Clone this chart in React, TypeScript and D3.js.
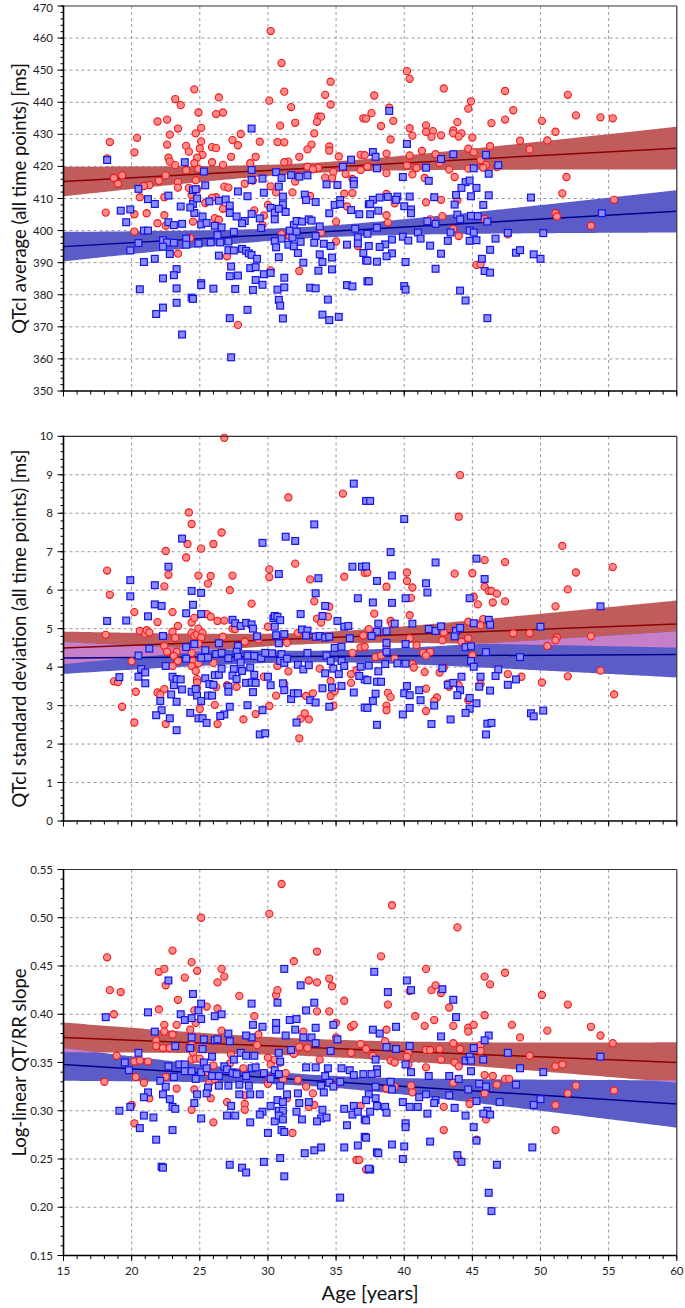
import React from "react";
import * as d3 from "d3";

// ---------- DATA ----------
const ageDomain: [number, number] = [15, 60];
const ageTicks = [15, 20, 25, 30, 35, 40, 45, 50, 55, 60];

const avgTicks = [350, 360, 370, 380, 390, 400, 410, 420, 430, 440, 450, 460, 470];
const sdTicks = [0, 1, 2, 3, 4, 5, 6, 7, 8, 9, 10];
const slopeTicks = [0.15, 0.2, 0.25, 0.3, 0.35, 0.4, 0.45, 0.5, 0.55];

// Panel 1: QTcI average [ms]  (female = red circles, male = blue squares)
const avgFemale: [number, number][] = [
  [30.2,462.2],[31.0,452.2],[40.2,449.7],[40.4,447.3],[34.6,446.4],[42.9,444.3],[24.6,444.0],[31.2,443.3],[47.4,443.5],[34.2,442.3],
  [52.0,442.3],[37.8,442.1],[26.4,441.5],[23.2,441.0],[30.1,440.5],[44.9,440.3],[34.6,439.3],[23.6,439.1],[31.7,438.5],[38.9,438.3],
  [44.7,438.0],[48.0,437.5],[24.9,436.8],[26.7,436.8],[37.6,436.6],[26.2,436.3],[52.6,435.9],[33.7,435.5],[33.9,435.5],[54.4,435.3],
  [55.3,435.0],[37.0,435.0],[37.2,434.9],[21.9,434.0],[22.6,434.6],[46.4,433.5],[47.4,434.6],[50.1,434.2],[39.2,434.2],[43.9,433.8],
  [33.6,433.9],[32.0,433.6],[30.9,432.7],[41.6,432.8],[38.3,432.6],[25.1,432.0],[23.4,431.8],[40.4,431.9],[42.1,431.0],[43.6,431.2],
  [51.1,430.8],[41.6,430.8],[24.7,430.3],[33.4,430.3],[44.2,430.3],[43.6,430.3],[28.0,430.1],[42.7,429.7],[40.6,429.6],[22.8,429.9],
  [20.4,428.9],[44.0,429.3],[42.0,429.2],[45.0,429.0],[39.0,428.4],[27.4,428.2],[50.5,428.1],[48.5,428.0],[25.1,427.8],[18.4,427.6],
  [29.4,427.7],[30.7,427.6],[31.2,427.5],[22.6,426.8],[33.2,426.8],[27.8,426.6],[24.0,426.4],[46.3,426.3],[34.5,426.2],[25.9,426.0],
  [26.2,425.7],[25.0,425.6],[44.7,425.5],[32.9,425.3],[49.2,425.3],[34.5,424.9],[41.3,424.8],[24.2,424.6],[20.2,424.4],[45.1,424.4],
  [38.7,424.0],[42.3,423.8],[35.2,423.1],[36.8,423.6],[37.1,423.5],[25.2,423.6],[40.4,423.4],[27.3,423.0],[29.1,423.0],[32.3,423.0],
  [22.7,422.7],[24.8,422.7],[18.2,422.5],[45.6,421.9],[28.7,421.0],[22.8,421.5],[31.5,421.5],[25.9,421.3],[31.2,421.3],[42.6,421.1],
  [24.6,421.0],[26.7,420.5],[23.2,420.4],[46.0,420.4],[40.2,420.3],[37.3,419.9],[32.9,419.9],[46.8,419.8],[33.7,419.6],[45.8,419.6],
  [40.9,419.5],[44.7,419.3],[24.9,419.2],[33.3,419.1],[43.3,419.0],[36.8,418.9],[24.0,418.8],[34.8,418.3],[38.7,417.9],[35.7,417.6],
  [40.6,417.5],[19.3,417.2],[22.5,417.2],[32.2,417.1],[43.7,416.7],[51.9,416.7],[34.2,416.5],[18.7,416.4],[41.5,416.4],[34.7,416.3],
  [36.2,416.1],[24.7,415.7],[28.9,415.6],[22.0,415.5],[32.0,415.3],[23.4,415.1],[19.0,414.6],[28.3,414.6],[21.3,414.2],[20.9,413.9],
  [30.2,413.8],[26.8,413.7],[23.4,413.4],[27.1,413.4],[24.2,413.3],[24.8,412.9],[31.8,411.9],[30.6,411.9],[36.2,411.7],[51.6,411.6],
  [35.6,411.5],[38.7,411.4],[24.4,411.1],[33.1,410.8],[20.6,410.4],[22.4,410.4],[26.2,410.4],[25.9,410.3],[32.8,409.7],[55.4,409.6],
  [42.7,409.6],[43.9,409.4],[24.5,409.1],[41.6,408.8],[25.4,408.6],[39.3,408.5],[30.0,408.0],[35.8,407.5],[26.7,406.8],[29.0,406.3],
  [18.1,405.6],[21.1,405.4],[51.1,405.4],[20.2,405.1],[38.7,404.8],[22.4,404.8],[29.7,404.7],[42.8,404.5],[51.2,404.4],[26.1,403.9],
  [45.9,403.6],[41.9,403.5],[26.4,403.4],[24.5,402.8],[35.0,402.8],[38.8,402.5],[21.9,402.3],[29.6,401.7],[22.5,401.5],[53.7,401.5],
  [43.6,400.5],[20.2,399.7],[33.9,399.4],[31.0,398.9],[47.6,398.8],[31.6,398.3],[44.0,398.3],[24.3,397.7],[35.0,396.6],[36.6,395.2],
  [23.4,392.8],[27.0,392.0],[45.3,389.3],[45.6,389.5],[30.2,387.6],[32.3,387.4],[27.8,370.6]
];
const avgMale: [number, number][] = [
  [18.2,422.0],[20.5,413.0],[19.2,406.2],[19.9,406.6],[19.6,402.6],[20.9,400.0],[21.2,400.0],[20.5,396.1],[19.9,393.8],[20.9,390.2],
  [20.6,381.7],[21.2,409.8],[21.7,408.3],[21.7,391.2],[22.3,385.1],[21.8,374.0],[22.3,376.0],[22.7,410.9],[22.7,402.6],[23.1,401.7],
  [23.7,402.1],[23.6,407.5],[23.9,421.3],[22.3,397.0],[22.6,396.3],[23.1,396.2],[22.3,395.0],[22.8,392.7],[23.3,388.0],[23.1,386.1],
  [23.3,382.0],[23.3,377.5],[23.7,367.6],[24.0,397.5],[24.0,395.6],[24.5,412.6],[24.7,412.9],[24.5,408.3],[24.6,405.5],[24.8,410.0],
  [24.3,407.2],[25.2,404.4],[25.4,414.1],[25.3,418.4],[25.1,401.9],[25.5,402.4],[25.7,409.1],[24.9,396.0],[25.1,383.6],[25.1,383.0],
  [24.4,379.1],[24.5,378.7],[26.0,381.9],[25.8,396.3],[26.1,401.5],[26.3,398.6],[26.6,401.0],[26.5,396.3],[26.4,409.3],[26.9,409.7],
  [27.2,407.8],[27.2,405.5],[27.5,399.6],[27.1,396.6],[26.4,392.2],[27.1,393.9],[27.5,393.8],[28.1,394.3],[28.4,393.7],[28.6,392.9],
  [28.8,392.4],[29.2,391.2],[28.7,388.3],[29.1,388.6],[27.3,388.8],[27.2,385.8],[27.8,386.0],[27.6,381.8],[27.2,372.7],[28.5,375.3],
  [28.9,381.5],[29.1,384.6],[29.6,383.1],[29.7,386.4],[30.2,386.8],[30.7,381.6],[31.2,382.3],[31.2,385.3],[30.8,378.4],[30.9,376.6],
  [31.1,372.6],[28.8,431.8],[27.8,412.2],[28.5,410.7],[28.8,405.2],[28.3,403.0],[28.1,402.3],[27.7,404.4],[28.8,418.9],[28.8,415.8],
  [29.6,416.2],[29.7,411.8],[29.4,403.8],[29.5,400.8],[30.2,407.1],[30.5,405.6],[30.5,403.5],[30.8,413.7],[30.6,418.2],[31.0,416.4],
  [31.1,410.6],[31.1,408.1],[30.8,406.8],[31.3,405.8],[31.0,397.5],[30.5,396.7],[30.6,394.8],[30.8,391.7],[31.5,395.6],[31.8,397.8],
  [31.9,395.1],[32.2,393.0],[32.4,396.5],[32.6,390.0],[31.7,417.3],[32.3,416.8],[32.9,417.2],[32.7,411.2],[32.8,409.5],[33.5,408.9],
  [31.9,401.7],[32.1,403.0],[31.6,400.0],[32.1,399.7],[32.5,402.8],[33.0,403.5],[33.2,403.1],[33.8,401.3],[33.5,398.3],[33.4,396.2],
  [33.8,392.6],[34.1,395.9],[34.0,390.2],[34.6,395.2],[34.7,391.6],[33.7,387.5],[34.7,387.9],[33.1,382.2],[33.5,382.0],[34.4,378.5],
  [34.0,373.8],[34.5,372.1],[35.2,373.1],[34.3,414.4],[34.5,405.4],[34.9,408.0],[35.3,409.5],[35.3,408.3],[35.1,414.2],[35.5,419.9],
  [36.1,422.1],[36.3,415.5],[36.3,414.4],[36.1,406.4],[36.7,405.1],[36.4,400.6],[36.6,397.9],[36.6,396.0],[35.8,395.6],[37.0,393.0],
  [37.2,390.7],[35.8,383.0],[36.2,382.6],[37.3,384.2],[37.4,408.2],[27.3,360.5],
  [38.9,437.3],[40.2,427.0],[37.7,424.5],[37.9,423.0],[38.0,419.4],[42.7,422.3],[43.6,423.8],[46.0,423.6],[46.9,420.4],[45.1,419.4],
  [41.6,419.6],[46.2,417.7],[39.9,416.7],[41.8,415.5],[44.5,415.1],[44.8,415.6],[44.2,413.3],[45.3,413.3],[44.9,410.7],[46.2,411.0],
  [43.8,411.1],[42.2,410.4],[40.4,410.6],[49.3,410.3],[39.5,410.6],[38.8,410.5],[38.2,410.3],[37.7,409.6],[37.5,408.3],[39.4,409.6],
  [40.0,407.6],[40.5,406.6],[40.5,405.4],[38.1,406.2],[37.5,405.1],[43.7,408.1],[45.8,408.0],[43.9,405.0],[44.9,404.6],[45.4,404.5],
  [44.1,403.5],[41.7,402.9],[42.3,402.1],[46.1,402.8],[54.5,405.4],[38.0,400.9],[37.3,399.0],[39.9,398.1],[40.3,396.9],[41.0,399.4],
  [41.2,397.5],[43.4,399.4],[43.2,396.8],[44.8,400.0],[45.1,399.4],[44.8,396.8],[45.3,397.0],[46.7,397.5],[47.6,399.3],[50.2,399.2],
  [39.1,397.2],[38.6,395.7],[38.2,394.9],[37.4,395.2],[41.9,395.3],[39.1,392.9],[38.7,392.0],[42.7,392.8],[46.3,394.0],[48.2,393.1],
  [48.5,393.9],[49.5,392.6],[50.0,391.2],[37.3,390.6],[38.0,390.3],[40.1,390.2],[42.3,388.1],[45.7,391.2],[45.9,387.4],[46.3,386.9],
  [37.4,384.2],[40.0,382.7],[40.1,381.6],[44.1,381.3],[44.5,378.2],[46.1,372.7]
];

// Panel 2: QTcI standard deviation [ms]
const sdFemale: [number, number][] = [
  [26.8,9.96],[18.2,6.51],[18.4,5.88],[18.1,4.84],[18.7,3.63],[19.0,3.61],[19.3,2.97],[20.2,2.56],[20.2,5.43],[20.0,4.15],
  [20.3,3.36],[20.6,4.94],[21.0,4.87],[21.1,4.96],[21.3,4.90],[21.9,5.17],[21.9,3.34],[22.5,7.02],[22.4,6.10],[22.7,6.40],
  [22.4,4.55],[22.6,4.40],[22.4,3.43],[22.5,2.52],[22.1,3.29],[23.0,5.43],[23.0,4.92],[23.4,5.07],[23.2,4.76],[23.3,4.40],
  [23.1,4.29],[23.4,4.16],[23.0,4.03],[24.2,8.02],[24.4,7.72],[24.1,7.20],[24.0,6.85],[24.4,5.16],[24.6,5.28],[24.4,4.89],
  [24.6,4.81],[24.8,4.85],[24.9,5.00],[25.2,4.89],[25.1,4.77],[24.9,4.61],[24.4,4.37],[24.5,4.16],[24.4,4.03],[24.7,3.90],
  [24.8,3.69],[24.8,3.60],[24.8,3.45],[24.9,6.38],[25.1,7.08],[25.6,6.17],[25.8,6.37],[25.5,5.38],[25.8,5.31],[26.3,5.20],
  [26.6,7.50],[26.0,7.20],[24.9,4.10],[25.0,2.91],[26.0,4.11],[26.2,3.48],[26.1,3.02],[26.3,2.52],[26.8,5.21],[26.7,4.79],
  [27.2,6.00],[27.4,6.38],[27.4,5.00],[27.6,4.99],[27.7,3.49],[27.0,3.53],[28.2,2.64],[28.8,5.65],[28.3,4.66],[29.3,4.72],
  [29.1,2.78],[30.1,6.54],[30.1,6.34],[30.0,5.05],[29.7,3.75],[30.1,2.99],[31.4,4.63],[31.5,8.41],[32.0,6.69],[31.2,3.56],
  [30.6,3.26],[30.7,4.03],[31.5,3.89],[32.3,2.15],[32.4,2.66],[33.0,2.64],[32.2,4.89],[33.1,6.28],[33.4,5.71],[33.6,5.26],
  [33.9,5.16],[34.5,5.57],[34.4,5.31],[32.8,3.25],[33.3,3.32],[33.8,3.96],[34.6,3.64],[34.6,3.25],[34.9,3.37],[34.8,3.00],
  [35.5,8.51],[35.6,6.35],[36.2,4.37],[36.1,3.82],[36.1,3.59],[36.8,4.51],[36.5,3.92],[37.1,6.45],[37.0,4.82],[32.7,2.80],
  [44.1,8.99],[44.0,7.91],[51.6,7.15],[45.9,6.78],[47.4,6.73],[55.3,6.60],[52.6,6.46],[43.7,6.43],[45.0,6.44],[40.2,6.46],
  [40.2,6.24],[40.6,6.07],[38.7,6.09],[45.9,6.09],[46.2,5.98],[46.4,5.98],[46.8,5.91],[52.0,6.02],[40.5,5.80],[45.1,5.83],
  [45.4,5.63],[46.5,5.68],[47.4,5.71],[51.1,5.58],[37.8,5.39],[40.4,5.35],[37.3,6.46],[39.0,5.20],[39.1,5.12],[44.7,5.18],
  [45.8,5.25],[45.6,5.09],[37.4,4.99],[42.9,4.90],[42.8,4.70],[43.7,4.94],[44.7,4.75],[44.2,4.66],[48.0,4.88],[49.2,4.88],
  [53.7,4.80],[50.5,4.55],[51.2,4.77],[51.1,4.70],[40.4,4.75],[40.9,4.57],[38.7,4.55],[37.1,4.53],[41.4,4.37],[41.9,4.39],
  [41.6,4.30],[45.0,4.31],[37.9,4.26],[38.3,4.30],[39.3,4.22],[40.6,4.08],[40.7,3.99],[42.9,3.99],[41.5,3.87],[42.6,3.86],
  [47.6,3.82],[48.6,3.75],[52.0,3.76],[54.4,3.91],[50.1,3.60],[43.3,3.49],[44.0,3.53],[45.6,3.56],[41.6,3.44],[38.8,3.33],
  [39.0,3.22],[42.4,3.21],[42.2,3.12],[44.7,3.14],[55.4,3.29],[38.7,3.00],[38.7,2.88],[41.6,2.86],[43.2,3.57]
];
const sdMale: [number, number][] = [
  [18.2,5.20],[19.6,5.21],[19.9,5.84],[19.9,6.26],[20.5,4.30],[20.7,3.95],[20.5,3.75],[21.0,3.86],[21.0,3.58],[19.1,3.74],
  [21.2,5.32],[21.3,4.48],[21.7,6.13],[21.7,5.63],[22.2,5.59],[22.3,4.81],[22.5,4.03],[22.7,6.61],[22.9,3.29],[23.0,3.75],
  [23.1,3.53],[23.3,3.69],[23.6,3.68],[23.7,3.42],[23.3,3.10],[22.1,3.12],[22.2,2.88],[21.8,2.75],[22.8,2.67],[23.3,2.36],
  [23.7,7.34],[24.0,5.40],[24.0,4.52],[24.0,4.22],[24.4,5.98],[24.5,5.62],[24.6,4.60],[25.1,5.93],[25.1,5.38],[25.4,4.44],
  [25.1,4.24],[25.6,4.25],[25.4,3.71],[25.7,3.56],[26.0,3.54],[24.4,3.36],[24.8,3.26],[25.1,3.12],[24.7,3.43],[24.3,2.81],
  [24.9,2.67],[25.2,2.67],[25.5,2.55],[25.6,3.26],[25.9,3.26],[26.1,3.79],[26.2,4.34],[26.6,4.37],[26.4,4.62],[26.4,3.80],
  [26.6,3.96],[27.1,4.23],[27.1,3.49],[27.1,3.36],[27.2,2.97],[26.8,2.77],[26.5,2.73],[27.4,5.23],[27.6,5.14],[28.0,5.07],
  [27.8,4.55],[27.7,4.40],[27.8,4.27],[28.0,4.12],[27.5,3.95],[27.4,3.78],[27.7,3.69],[28.1,3.90],[28.4,5.15],[28.8,5.11],
  [28.9,5.00],[29.2,4.80],[28.5,4.30],[29.0,4.29],[28.7,3.99],[29.0,3.80],[28.4,3.59],[28.8,3.60],[29.1,3.59],[28.9,3.35],
  [28.5,3.01],[29.5,4.23],[29.8,4.37],[29.6,7.23],[29.6,2.88],[29.4,2.25],[29.8,2.28],[30.0,3.75],[30.2,3.53],[30.3,4.36],
  [30.4,5.27],[30.5,5.33],[30.7,5.31],[30.9,5.22],[30.5,5.05],[30.6,4.83],[30.8,4.62],[31.2,4.86],[31.0,4.34],[30.9,4.16],
  [31.2,4.11],[31.4,4.22],[31.1,3.58],[31.2,3.40],[31.7,3.17],[31.9,3.32],[32.2,3.32],[32.1,2.56],[30.8,6.42],[31.3,7.39],
  [32.0,7.28],[32.4,5.38],[32.5,4.98],[32.9,4.95],[32.8,4.82],[32.9,4.37],[32.2,4.06],[32.6,3.94],[33.0,4.05],[33.1,3.14],
  [33.5,3.08],[33.5,4.79],[33.7,6.31],[33.5,5.92],[33.4,7.71],[34.2,5.59],[34.0,5.33],[33.8,4.81],[34.2,4.77],[34.5,4.79],
  [34.3,4.30],[34.6,4.16],[34.8,3.96],[34.2,3.84],[34.7,3.47],[35.4,3.51],[34.0,3.45],[34.5,2.97],[35.1,5.20],[35.6,5.05],
  [35.9,5.07],[36.0,4.75],[34.9,4.50],[35.4,4.53],[35.4,4.16],[35.6,4.03],[35.2,3.82],[36.3,8.77],[36.2,6.61],[36.9,6.61],
  [36.6,5.79],[37.2,8.32],[36.3,3.34],[37.1,2.95],[36.8,4.01],[37.1,3.68],[36.7,3.77],
  [37.5,8.32],[40.0,7.85],[39.0,6.99],[42.3,6.72],[45.3,6.82],[37.2,6.62],[38.0,6.24],[39.1,6.38],[41.6,6.18],[41.7,5.94],
  [45.9,6.29],[40.1,5.79],[44.8,5.79],[37.7,5.68],[39.1,5.67],[54.4,5.58],[38.1,5.13],[38.0,4.92],[37.6,4.81],[38.7,4.93],
  [39.3,5.13],[40.6,5.13],[41.8,4.99],[42.3,4.94],[42.7,5.06],[43.8,4.94],[44.1,5.02],[43.7,4.80],[45.1,5.14],[46.2,5.23],
  [46.3,5.10],[50.0,5.05],[38.7,4.63],[40.1,4.60],[38.7,4.40],[44.5,4.52],[44.9,4.54],[46.0,4.39],[48.5,4.26],[37.4,4.04],
  [38.6,4.08],[38.1,3.89],[39.5,4.10],[40.1,4.09],[42.8,3.97],[44.9,4.16],[45.1,4.01],[46.9,3.94],[44.2,3.75],[45.6,3.75],
  [46.7,3.77],[48.2,3.68],[37.3,3.66],[38.0,3.62],[38.3,3.62],[40.2,3.51],[43.2,3.54],[43.6,3.59],[45.5,3.49],[46.3,3.39],
  [47.6,3.54],[40.0,3.32],[40.4,3.27],[41.1,3.40],[37.9,3.31],[44.1,3.40],[43.9,3.27],[41.2,3.14],[44.8,3.20],[45.3,3.06],
  [37.7,3.12],[37.3,2.94],[40.4,2.94],[42.2,3.00],[44.8,2.92],[44.5,2.81],[39.9,2.77],[50.2,2.87],[49.3,2.80],[49.5,2.72],
  [38.0,2.50],[42.0,2.52],[43.4,2.64],[46.1,2.53],[46.4,2.55],[46.0,2.25]
];

// Panel 3: log-linear QT/RR slope
const slopeFemale: [number, number][] = [
  [31.0,0.535],[30.1,0.504],[25.1,0.500],[39.1,0.513],[43.9,0.490],
  [18.2,0.459],[18.4,0.425],[19.2,0.423],[18.7,0.400],[18.0,0.330],[18.9,0.357],[20.2,0.351],[20.6,0.352],[20.3,0.335],[20.9,0.329],
  [21.2,0.351],[21.3,0.313],[20.0,0.306],[20.2,0.287],[22.0,0.444],[22.4,0.447],[22.5,0.430],[23.0,0.466],[22.0,0.405],[22.4,0.389],
  [22.4,0.382],[21.8,0.373],[21.8,0.367],[22.3,0.365],[22.8,0.365],[23.0,0.379],[23.3,0.389],[23.4,0.415],[22.5,0.335],[23.3,0.323],
  [23.9,0.438],[24.4,0.454],[24.8,0.445],[24.6,0.404],[24.3,0.384],[24.7,0.391],[24.4,0.368],[24.2,0.365],[24.5,0.360],[24.4,0.353],
  [24.7,0.354],[25.0,0.354],[24.6,0.322],[24.4,0.301],[25.5,0.408],[26.3,0.406],[26.6,0.447],[26.8,0.439],[26.3,0.433],[26.6,0.383],
  [26.3,0.373],[25.6,0.340],[26.0,0.347],[25.7,0.329],[26.1,0.332],[25.8,0.313],[26.0,0.288],[27.0,0.309],[27.9,0.419],[27.3,0.358],
  [27.2,0.349],[28.2,0.344],[28.3,0.307],[28.3,0.316],[28.3,0.301],[29.0,0.398],[29.2,0.368],[29.3,0.379],[30.0,0.355],[30.0,0.328],
  [30.1,0.334],[30.6,0.420],[30.7,0.425],[30.2,0.348],[30.5,0.353],[30.9,0.350],[31.1,0.332],[31.3,0.339],[31.4,0.313],[31.8,0.277],
  [31.9,0.455],[33.6,0.465],[33.0,0.435],[33.6,0.433],[34.5,0.437],[34.7,0.429],[33.6,0.403],[34.5,0.403],[32.6,0.382],[32.3,0.366],
  [32.9,0.365],[31.9,0.359],[33.8,0.353],[32.2,0.332],[32.8,0.325],[33.3,0.318],[33.0,0.304],[33.4,0.306],[35.6,0.414],[36.1,0.387],
  [36.3,0.389],[35.0,0.391],[35.0,0.376],[36.1,0.360],[36.8,0.369],[34.9,0.326],[36.8,0.305],[36.5,0.249],[37.2,0.239],
  [38.3,0.460],[41.6,0.447],[45.9,0.439],[47.4,0.443],[46.3,0.431],[42.0,0.425],[42.3,0.430],[42.7,0.422],[50.1,0.420],[52.0,0.410],
  [38.8,0.410],[40.4,0.424],[43.3,0.407],[40.8,0.398],[42.2,0.394],[41.5,0.388],[43.6,0.388],[44.7,0.386],[44.7,0.382],[45.1,0.389],
  [45.9,0.399],[47.9,0.389],[48.5,0.376],[50.5,0.383],[53.7,0.387],[54.4,0.378],[55.3,0.370],[38.7,0.384],[38.6,0.372],[37.2,0.364],
  [43.6,0.370],[44.1,0.364],[42.6,0.364],[41.6,0.363],[41.9,0.363],[45.6,0.368],[45.6,0.362],[40.3,0.360],[40.2,0.356],[37.7,0.357],
  [39.0,0.352],[39.3,0.350],[42.7,0.353],[49.2,0.357],[51.1,0.346],[51.6,0.348],[40.3,0.348],[41.6,0.345],[43.7,0.350],[44.0,0.346],
  [45.9,0.337],[46.5,0.336],[47.4,0.333],[47.7,0.333],[40.5,0.326],[40.6,0.319],[39.3,0.325],[38.7,0.323],[43.6,0.329],[46.8,0.327],
  [52.6,0.326],[55.4,0.321],[45.9,0.318],[52.0,0.318],[51.1,0.306],[44.9,0.309],[44.8,0.307],[42.9,0.304],[46.0,0.291],[42.9,0.280],
  [51.1,0.280],[44.0,0.250],[45.3,0.270],[36.7,0.249]
];
const slopeMale: [number, number][] = [
  [18.1,0.397],[19.5,0.350],[19.8,0.342],[20.5,0.360],[19.1,0.300],[19.9,0.304],[20.6,0.282],[20.9,0.295],[21.2,0.319],[20.9,0.314],
  [21.6,0.293],[21.8,0.270],[22.2,0.242],[21.2,0.402],[21.7,0.382],[22.1,0.331],[22.5,0.325],[22.3,0.317],[22.8,0.312],[23.0,0.304],
  [23.2,0.302],[23.0,0.280],[22.7,0.435],[23.2,0.367],[22.7,0.346],[23.1,0.335],[23.5,0.348],[23.6,0.400],[23.9,0.394],[24.4,0.396],
  [24.9,0.404],[25.1,0.395],[25.1,0.411],[24.5,0.421],[24.4,0.376],[24.3,0.365],[25.3,0.374],[25.2,0.364],[23.9,0.348],[23.9,0.341],
  [24.4,0.341],[25.1,0.340],[24.7,0.333],[25.3,0.350],[25.5,0.344],[25.9,0.356],[25.9,0.336],[25.6,0.324],[25.5,0.318],[24.8,0.317],
  [24.6,0.308],[25.1,0.292],[26.1,0.398],[26.6,0.400],[26.1,0.373],[26.3,0.374],[27.1,0.380],[27.2,0.372],[26.4,0.336],[26.8,0.346],
  [27.0,0.343],[27.4,0.339],[27.7,0.338],[27.5,0.353],[28.0,0.360],[27.1,0.326],[26.4,0.326],[27.9,0.327],[28.6,0.326],[27.9,0.317],
  [28.7,0.317],[27.3,0.305],[27.0,0.295],[27.6,0.295],[27.2,0.244],[28.1,0.241],[28.4,0.236],[28.7,0.288],[28.8,0.411],[28.9,0.389],
  [28.8,0.376],[28.4,0.378],[28.4,0.357],[29.0,0.357],[28.4,0.336],[28.8,0.344],[29.1,0.345],[29.4,0.317],[29.6,0.387],[29.7,0.339],
  [30.2,0.305],[29.6,0.299],[29.4,0.296],[30.0,0.277],[29.7,0.247],[30.6,0.391],[30.6,0.384],[30.7,0.412],[31.2,0.447],[30.8,0.360],
  [30.9,0.351],[30.5,0.342],[30.8,0.338],[30.2,0.333],[30.9,0.326],[31.4,0.317],[30.7,0.311],[31.1,0.309],[30.8,0.300],[31.1,0.300],
  [30.5,0.289],[30.8,0.295],[31.1,0.291],[31.0,0.280],[31.2,0.278],[30.9,0.251],[31.2,0.232],[31.3,0.378],[31.6,0.394],[32.1,0.395],
  [32.0,0.384],[32.4,0.430],[32.8,0.404],[33.4,0.412],[33.5,0.386],[34.8,0.389],[32.6,0.376],[33.2,0.376],[33.5,0.370],[31.7,0.363],
  [32.8,0.345],[33.5,0.345],[34.4,0.344],[34.6,0.362],[34.2,0.336],[33.9,0.326],[34.1,0.319],[34.5,0.329],[35.1,0.374],[35.4,0.344],
  [36.0,0.342],[36.3,0.337],[37.0,0.338],[34.8,0.325],[35.3,0.330],[32.2,0.318],[32.3,0.308],[33.0,0.309],[32.1,0.299],[32.5,0.291],
  [34.0,0.301],[33.9,0.292],[34.3,0.293],[33.6,0.289],[35.6,0.302],[36.3,0.305],[36.2,0.296],[36.6,0.299],[37.1,0.291],[35.8,0.285],
  [37.1,0.273],[36.6,0.264],[35.6,0.262],[33.9,0.262],[33.4,0.259],[32.7,0.256],[37.5,0.239],[35.3,0.210],[22.3,0.241],
  [37.8,0.444],[40.2,0.435],[38.8,0.423],[40.5,0.425],[42.8,0.426],[43.6,0.415],[43.8,0.397],[37.7,0.384],[38.2,0.380],[39.4,0.387],
  [42.7,0.377],[46.2,0.378],[45.9,0.373],[38.7,0.366],[39.4,0.364],[40.4,0.367],[45.1,0.365],[47.6,0.360],[54.4,0.356],[37.9,0.353],
  [44.5,0.352],[44.8,0.356],[44.9,0.352],[45.8,0.353],[40.1,0.348],[40.5,0.340],[38.0,0.343],[38.0,0.339],[37.6,0.338],[48.5,0.344],
  [50.2,0.340],[41.8,0.336],[43.3,0.336],[44.0,0.333],[44.9,0.341],[39.0,0.330],[39.1,0.322],[37.9,0.325],[45.5,0.328],[46.0,0.325],
  [48.2,0.327],[44.7,0.322],[37.4,0.317],[37.9,0.313],[41.1,0.314],[41.6,0.317],[43.3,0.316],[39.9,0.309],[42.3,0.311],[42.2,0.308],
  [45.3,0.310],[47.0,0.309],[49.5,0.306],[50.0,0.312],[37.2,0.311],[38.0,0.305],[38.6,0.304],[40.4,0.304],[41.0,0.304],[43.7,0.303],
  [46.1,0.300],[46.3,0.296],[37.5,0.299],[38.7,0.298],[41.7,0.297],[44.5,0.295],[45.8,0.297],[37.2,0.290],[40.1,0.287],[40.1,0.283],
  [45.1,0.283],[37.2,0.272],[39.1,0.265],[40.0,0.263],[41.9,0.268],[45.3,0.269],[49.4,0.262],[38.0,0.257],[39.9,0.250],[43.9,0.254],
  [44.2,0.247],[46.8,0.244],[38.1,0.256],[37.4,0.240],[46.2,0.215],[46.4,0.196]
];

// Regression lines (value at age 15 and 60) and 95% CI half-width parameters
const avgFemaleFit = { at15: 415.3, at60: 425.7, h0: 1.6, k: 0.24, m: 33 };
const avgMaleFit = { at15: 395.0, at60: 406.0, h0: 1.8, k: 0.235, m: 33 };
const sdFemaleFit = { at15: 4.5, at60: 5.12, h0: 0.15, k: 0.022, m: 33 };
const sdMaleFit = { at15: 4.24, at60: 4.33, h0: 0.15, k: 0.0215, m: 33 };
const slopeFemaleFit = { at15: 0.376, at60: 0.35, h0: 0.009, k: 0.0007, m: 33 };
const slopeMaleFit = { at15: 0.348, at60: 0.307, h0: 0.006, k: 0.00088, m: 33 };

// ---------- LAYOUT / STYLE ----------
const W = 685, H = 1308;
const XL = 63.5, XR = 676.8;
const FONT = "Lato, 'Open Sans', sans-serif";
const RED_BAND = "#c05c5c", BLUE_BAND = "#5c5cc8", OVERLAP = "#c67fc8";
const RED_LINE = "#8b0000", BLUE_LINE = "#00008b";

type Fit = { at15: number; at60: number; h0: number; k: number; m: number };

const fitY = (f: Fit, a: number) => f.at15 + ((f.at60 - f.at15) * (a - 15)) / 45;
const fitHW = (f: Fit, a: number) => Math.sqrt(f.h0 * f.h0 + f.k * f.k * (a - f.m) * (a - f.m));

const x = d3.scaleLinear().domain(ageDomain).range([XL, XR]);
const bandAges = d3.range(15, 60.001, 0.25);
const minorAges = d3.range(15, 60.001, 1);

type PanelDef = {
  id: string;
  top: number;
  bottom: number;
  ticks: number[];
  minorStep: number;
  fmt: (v: number) => string;
  title: string;
  female: [number, number][];
  male: [number, number][];
  ff: Fit;
  fm: Fit;
  xLabels: boolean;
};

const panels: PanelDef[] = [
  { id: "p1", top: 6, bottom: 391, ticks: avgTicks, minorStep: 2, fmt: (v) => String(v),
    title: "QTcI average (all time points) [ms]", female: avgFemale, male: avgMale, ff: avgFemaleFit, fm: avgMaleFit, xLabels: false },
  { id: "p2", top: 436.3, bottom: 821, ticks: sdTicks, minorStep: 0.2, fmt: (v) => String(v),
    title: "QTcI standard deviation (all time points) [ms]", female: sdFemale, male: sdMale, ff: sdFemaleFit, fm: sdMaleFit, xLabels: false },
  { id: "p3", top: 869.5, bottom: 1255.5, ticks: slopeTicks, minorStep: 0.01, fmt: (v) => v.toFixed(2),
    title: "Log-linear QT/RR slope", female: slopeFemale, male: slopeMale, ff: slopeFemaleFit, fm: slopeMaleFit, xLabels: true },
];

function Panel({ p }: { p: PanelDef }) {
  const lo = p.ticks[0], hi = p.ticks[p.ticks.length - 1];
  const y = d3.scaleLinear().domain([lo, hi]).range([p.bottom, p.top]);
  const nMinor = Math.round((hi - lo) / p.minorStep);
  const minor = d3.range(0, nMinor + 1).map((i) => lo + i * p.minorStep);

  const area = (f: Fit) =>
    d3.area<number>()
      .x((a) => x(a))
      .y0((a) => y(fitY(f, a) - fitHW(f, a)))
      .y1((a) => y(fitY(f, a) + fitHW(f, a)))(bandAges) || "";
  const line = (f: Fit) =>
    d3.line<number>().x((a) => x(a)).y((a) => y(fitY(f, a)))([15, 60]) || "";

  const redArea = area(p.ff);
  const blueArea = area(p.fm);
  const mid = (p.top + p.bottom) / 2;

  return (
    <g>
      <defs>
        <clipPath id={`${p.id}-plot`}>
          <rect x={XL} y={p.top} width={XR - XL} height={p.bottom - p.top} />
        </clipPath>
        <clipPath id={`${p.id}-red`}>
          <path d={redArea} />
        </clipPath>
      </defs>
      {/* grid */}
      <g stroke="#9a9a9a" strokeWidth={1} strokeDasharray="3,3">
        {ageTicks.slice(1, -1).map((a) => (
          <line key={"gx" + a} x1={x(a)} x2={x(a)} y1={p.top} y2={p.bottom} />
        ))}
        {p.ticks.slice(1, -1).map((v) => (
          <line key={"gy" + v} x1={XL} x2={XR} y1={y(v)} y2={y(v)} />
        ))}
      </g>
      {/* bands */}
      <g clipPath={`url(#${p.id}-plot)`}>
        <path d={redArea} fill={RED_BAND} />
        <path d={blueArea} fill={BLUE_BAND} />
        <path d={blueArea} fill={OVERLAP} clipPath={`url(#${p.id}-red)`} />
        <path d={line(p.ff)} stroke={RED_LINE} strokeWidth={1.5} fill="none" />
        <path d={line(p.fm)} stroke={BLUE_LINE} strokeWidth={1.5} fill="none" />
      </g>
      {/* points */}
      <g fill="#ff8a8a" stroke="#f01818" strokeWidth={1.1}>
        {p.female.map((d, i) => (
          <circle key={"f" + i} cx={x(d[0])} cy={y(d[1])} r={3.6} />
        ))}
      </g>
      <g fill="#8a8aff" stroke="#1414e6" strokeWidth={1.2}>
        {p.male.map((d, i) => (
          <rect key={"m" + i} x={x(d[0]) - 3.4} y={y(d[1]) - 3.4} width={6.8} height={6.8} />
        ))}
      </g>
      {/* frame */}
      <line x1={XL} x2={XR} y1={p.top} y2={p.top} stroke="#333" strokeWidth={1.2} />
      <line x1={XR} x2={XR} y1={p.top} y2={p.bottom} stroke="#333" strokeWidth={1.2} />
      <line x1={XL} x2={XL} y1={p.top - 0.5} y2={p.bottom + 0.5} stroke="#000" strokeWidth={1.6} />
      <line x1={XL} x2={XR} y1={p.bottom} y2={p.bottom} stroke="#000" strokeWidth={1.6} />
      {/* ticks */}
      <g stroke="#000" strokeWidth={1}>
        {minor.map((v, i) => (
          <line key={"ym" + i} x1={XL - 3} x2={XL} y1={y(v)} y2={y(v)} />
        ))}
        {p.ticks.map((v) => (
          <line key={"yM" + v} x1={XL - 6} x2={XL} y1={y(v)} y2={y(v)} />
        ))}
        {minorAges.map((a) => (
          <line key={"xm" + a} x1={x(a)} x2={x(a)} y1={p.bottom} y2={p.bottom + 3.5} />
        ))}
        {ageTicks.map((a) => (
          <line key={"xM" + a} x1={x(a)} x2={x(a)} y1={p.bottom} y2={p.bottom + 5.5} />
        ))}
      </g>
      <g fontFamily={FONT} fontSize={11.5} fill="#222" textAnchor="end">
        {p.ticks.map((v) => (
          <text key={"yl" + v} x={53} y={Math.max(y(v), 8)} dy="0.35em">{p.fmt(v)}</text>
        ))}
      </g>
      {p.xLabels && (
        <g fontFamily={FONT} fontSize={11.5} fill="#222" textAnchor="middle">
          {ageTicks.map((a) => (
            <text key={"xl" + a} x={x(a)} y={p.bottom + 19}>{a}</text>
          ))}
        </g>
      )}
      <text
        transform={`translate(26,${mid}) rotate(-90)`}
        textAnchor="middle"
        fontFamily={FONT}
        fontSize={18.5}
        fill="#111"
      >
        {p.title}
      </text>
    </g>
  );
}

export default function App() {
  return (
    <svg
      width={W}
      height={H}
      viewBox={`0 0 ${W} ${H}`}
      style={{ position: "absolute", left: 0, top: 0, background: "#fff", display: "block" }}
    >
      <rect width={W} height={H} fill="#fff" />
      {panels.map((p) => (
        <Panel key={p.id} p={p} />
      ))}
      <text x={(XL + XR) / 2} y={1300} textAnchor="middle" fontFamily={FONT} fontSize={20} fill="#111">
        Age [years]
      </text>
    </svg>
  );
}
